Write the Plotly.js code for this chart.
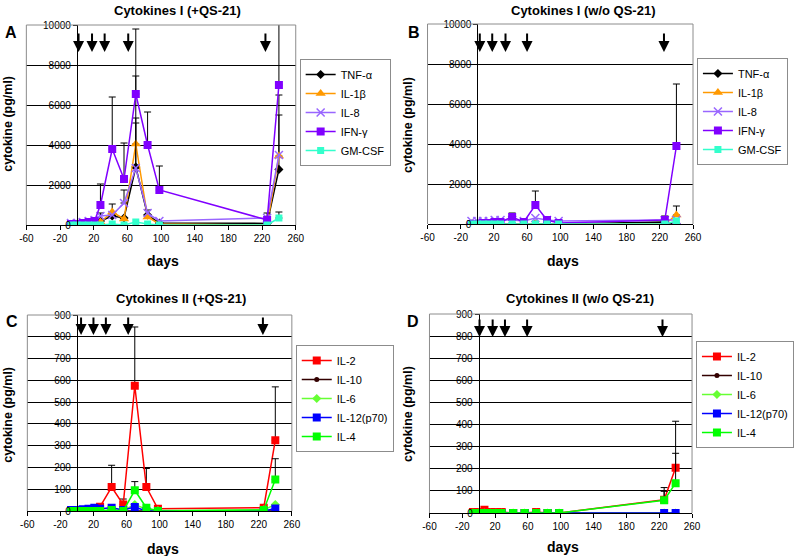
<!DOCTYPE html>
<html>
<head>
<meta charset="utf-8">
<script src="https://cdn.plot.ly/plotly-3.0.1.min.js"></script>
<style>html,body{margin:0;padding:0;background:#fff}#chart{width:794px;height:556px}</style>
</head>
<body>
<div id="chart"></div>
<script>
// ---------------- DATA ----------------
const days = [-7, 0, 7, 14, 21, 28, 42, 56, 70, 84, 98, 226, 240];
const xTicks = [-60, -20, 20, 60, 100, 140, 180, 220, 260];

const seriesI = ['TNF-α', 'IL-1β', 'IL-8', 'IFN-γ', 'GM-CSF'];
const seriesII = ['IL-2', 'IL-10', 'IL-6', 'IL-12(p70)', 'IL-4'];

// Panel A: Cytokines I (+QS-21)
const tnfA  = [30, 30, 50, 80, 100, 200, 450, 350, 2900, 500, 100, 80, 2780];
const il1bA = [0, 0, 0, 0, 0, 150, 650, 300, 4050, 400, 50, 0, 3450];
const il8A  = [100, 100, 150, 200, 250, 450, 500, 1100, 2850, 600, 200, 350, 3500];
const ifnA  = [50, 50, 100, 150, 200, 1000, 3800, 2300, 6550, 4000, 1750, 250, 7000];
const gmA   = [0, 0, 0, 0, 0, 0, 50, 0, 150, 50, 0, 0, 350];
const tnfAErr  = [null, null, null, null, null, 400, null, null, 2450, 250, null, null, 3720];
const il1bAErr = [null, null, null, null, null, null, 400, null, 3400, null, null, null, 2050];
const il8AErr  = [null, null, null, null, null, null, null, 650, 2250, null, null, null, null];
const ifnAErr  = [null, null, null, null, null, 1050, 2600, 1800, 3250, 1650, 1200, 350, 3600];
const gmAErr   = [null, null, null, null, null, null, null, null, null, null, null, null, 300];

// Panel B: Cytokines I (w/o QS-21)
const tnfB  = [0, 0, 0, 0, 0, 0, 0, 0, 0, 0, 0, 100, 0];
const il1bB = [0, 0, 0, 0, 0, 0, 0, 0, 0, 0, 0, 0, 450];
const il8B  = [150, 150, 150, 150, 200, 200, 200, 150, 300, 200, 150, 200, 200];
const ifnB  = [0, 0, 50, 50, 100, 100, 350, 100, 950, 200, 50, 200, 3900];
const gmB   = [0, 0, 0, 0, 0, 0, 0, 0, 0, 0, 0, 0, 150];
const tnfBErr  = [null, null, null, null, null, null, null, null, null, null, null, null, null];
const il1bBErr = [null, null, null, null, null, null, null, null, null, null, null, null, 450];
const il8BErr  = [null, null, null, null, null, null, null, null, null, null, null, null, null];
const ifnBErr  = [null, null, null, null, null, null, 200, null, 700, 150, null, 200, 3100];
const gmBErr   = [null, null, null, null, null, null, null, null, null, null, null, null, null];

// Panel C: Cytokines II (+QS-21)
const il2C  = [3, 3, 5, 5, 8, 20, 110, 30, 575, 110, 10, 15, 325];
const il10C = [0, 0, 0, 0, 0, 0, 0, 0, 0, 0, 0, 0, 0];
const il6C  = [2, 2, 2, 2, 2, 3, 5, 3, 30, 8, 2, 5, 30];
const il12C = [5, 5, 8, 10, 15, 10, 15, 5, 18, 0, 0, 0, 12];
const il4C  = [0, 0, 0, 0, 0, 0, 5, 0, 95, 15, 0, 5, 145];
const il2CErr  = [null, null, null, null, null, null, 100, 25, 270, 85, null, null, 245];
const il10CErr = [null, null, null, null, null, null, null, null, null, null, null, null, null];
const il6CErr  = [null, null, null, null, null, null, null, null, null, null, null, null, null];
const il12CErr = [null, null, null, null, null, null, null, null, null, null, null, null, null];
const il4CErr  = [null, null, null, null, null, null, null, null, 40, null, null, null, 95];

// Panel D: Cytokines II (w/o QS-21)
const il2D  = [5, 5, 15, 5, 5, 5, 0, 0, 5, 0, 0, 60, 205];
const il10D = [0, 0, 0, 0, 0, 0, 0, 0, 0, 0, 0, 0, 0];
const il6D  = [0, 0, 0, 0, 0, 0, 0, 0, 0, 0, 0, 0, 0];
const il12D = [0, 0, 0, 0, 0, 0, 0, 0, 0, 0, 0, 0, 0];
const il4D  = [0, 0, 0, 0, 0, 0, 0, 0, 0, 0, 0, 58, 135];
const il2DErr  = [null, null, null, null, null, null, null, null, null, null, null, 55, 210];
const il10DErr = [null, null, null, null, null, null, null, null, null, null, null, null, null];
const il6DErr  = [null, null, null, null, null, null, null, null, null, null, null, null, null];
const il12DErr = [null, null, null, null, null, null, null, null, null, null, null, null, null];
const il4DErr  = [null, null, null, null, null, null, null, null, null, null, null, 40, 135];

// Immunisation arrows (days) per panel
const arrowDaysA = [2, 18, 33, 61, 224];
const arrowDaysB = [3, 18, 34, 60, 225];
const arrowDaysC = [5, 20, 35, 62, 225];
const arrowDaysD = [1, 17, 32, 59, 224];

const titles = ['Cytokines I (+QS-21)', 'Cytokines I (w/o QS-21)', 'Cytokines II (+QS-21)', 'Cytokines II (w/o QS-21)'];
const panelLetters = ['A', 'B', 'C', 'D'];

// ---------------- STYLE ----------------
const FONT = 'Liberation Sans, Arial, Helvetica, sans-serif';
const W = 794, H = 556;
const X = px => px / W;
const Y = py => 1 - py / H;

const stylesI = [
  {color: '#000000', symbol: 'diamond', size: 7},
  {color: '#FF9900', symbol: 'triangle-up', size: 9},
  {color: '#9966FF', symbol: 'x-thin', size: 8, open: true},
  {color: '#8000FF', symbol: 'square', size: 8},
  {color: '#33FFCC', symbol: 'square', size: 7}
];
const stylesII = [
  {color: '#FF0000', symbol: 'square', size: 8},
  {color: '#330000', symbol: 'circle', size: 5},
  {color: '#66FF33', symbol: 'diamond', size: 7},
  {color: '#0000FF', symbol: 'square', size: 8},
  {color: '#00FF00', symbol: 'square', size: 8}
];

const toErr = a => a.map(v => v == null ? NaN : v);

function mk(name, y, err, st, xa, ya, leg) {
  const marker = {color: st.color, symbol: st.symbol, size: st.size};
  if (st.open) marker.line = {color: st.color, width: 1.5};
  return {
    type: 'scatter', mode: 'lines+markers', name: name, x: days, y: y,
    xaxis: xa, yaxis: ya, legend: leg,
    line: {color: st.color, width: 1.5},
    marker: marker,
    cliponaxis: true,
    error_y: {type: 'data', symmetric: false, array: toErr(err), color: '#000', thickness: 1, width: 3.5, visible: true},
    hoverinfo: 'skip'
  };
}

const traces = [];
const panels = [
  {xa: 'x', ya: 'y', leg: 'legend', names: seriesI, st: stylesI,
   ys: [tnfA, il1bA, il8A, ifnA, gmA], es: [tnfAErr, il1bAErr, il8AErr, ifnAErr, gmAErr]},
  {xa: 'x2', ya: 'y2', leg: 'legend2', names: seriesI, st: stylesI,
   ys: [tnfB, il1bB, il8B, ifnB, gmB], es: [tnfBErr, il1bBErr, il8BErr, ifnBErr, gmBErr]},
  {xa: 'x3', ya: 'y3', leg: 'legend3', names: seriesII, st: stylesII,
   ys: [il2C, il10C, il6C, il12C, il4C], es: [il2CErr, il10CErr, il6CErr, il12CErr, il4CErr]},
  {xa: 'x4', ya: 'y4', leg: 'legend4', names: seriesII, st: stylesII,
   ys: [il2D, il10D, il6D, il12D, il4D], es: [il2DErr, il10DErr, il6DErr, il12DErr, il4DErr]}
];
panels.forEach(p => {
  p.names.forEach((n, i) => traces.push(mk(n, p.ys[i], p.es[i], p.st[i], p.xa, p.ya, p.leg)));
});

// geometry (pixels)
const geo = [
  {l: 27, r: 303, t: 25, b: 225, max: 10000, dt: 2000, title: [182, 11], letter: [11, 33], ytitle: [8, 124], xtitle: [167, 261], legend: [307, 59], arrows: arrowDaysA, tip: 8650, alen: 20},
  {l: 438, r: 710, t: 24, b: 224, max: 10000, dt: 2000, title: [597, 11], letter: [424, 33], ytitle: [418, 125], xtitle: [577, 261], legend: [714, 58], arrows: arrowDaysB, tip: 8600, alen: 20},
  {l: 28, r: 299, t: 315, b: 511, max: 900, dt: 100, title: [185, 298], letter: [12, 321], ytitle: [8, 415], xtitle: [167, 549], legend: [303, 345], arrows: arrowDaysC, tip: 808, alen: 19},
  {l: 440, r: 709, t: 314, b: 513, max: 900, dt: 100, title: [594, 298], letter: [423, 321], ytitle: [418, 414], xtitle: [577, 547], legend: [713, 341], arrows: arrowDaysD, tip: 796, alen: 19}
];

const layout = {
  width: W, height: H,
  margin: {l: 0, r: 0, t: 0, b: 0},
  paper_bgcolor: '#fff', plot_bgcolor: '#fff',
  font: {family: FONT, color: '#000', size: 10},
  showlegend: true,
  annotations: [], shapes: []
};

geo.forEach((g, k) => {
  const sfx = k === 0 ? '' : String(k + 1);
  const xref = 'x' + sfx, yref = 'y' + sfx;
  const day0px = g.l + (0 - (-60)) * (g.r - g.l) / 320;
  layout['xaxis' + sfx] = {
    domain: [X(g.l), X(g.r)], anchor: yref, range: [-60, 260],
    tickmode: 'array', tickvals: xTicks, ticktext: xTicks.map(String),
    showgrid: false, zeroline: false, showline: true, linecolor: '#000', linewidth: 1,
    ticks: 'outside', ticklen: 4, tickcolor: '#000', tickfont: {size: 10, family: FONT, color: '#000'},
    fixedrange: true
  };
  layout['yaxis' + sfx] = {
    domain: [Y(g.b), Y(g.t)], anchor: 'free', position: X(day0px), range: [0, g.max],
    dtick: g.dt, tick0: 0, tickformat: 'd', showgrid: true, gridcolor: '#000', gridwidth: 1,
    zeroline: false, showline: true, linecolor: '#000', linewidth: 1,
    ticks: 'outside', ticklen: 4, tickcolor: '#000', tickfont: {size: 10, family: FONT, color: '#000'},
    fixedrange: true
  };
  // grey frame (left, top, right)
  const dx = xref + ' domain', dy = yref + ' domain';
  [[0, 0, 0, 1], [0, 1, 1, 1], [1, 0, 1, 1]].forEach(s => {
    layout.shapes.push({type: 'line', xref: dx, yref: dy, x0: s[0], y0: s[1], x1: s[2], y1: s[3],
      line: {color: '#8c8c8c', width: 1}, layer: 'above'});
  });
  // titles
  layout.annotations.push({text: '<b>' + titles[k] + '</b>', xref: 'paper', yref: 'paper',
    x: X(g.title[0]), y: Y(g.title[1]), xanchor: 'center', yanchor: 'middle', showarrow: false,
    font: {size: 13, family: FONT, color: '#000'}});
  layout.annotations.push({text: '<b>' + panelLetters[k] + '</b>', xref: 'paper', yref: 'paper',
    x: X(g.letter[0]), y: Y(g.letter[1]), xanchor: 'center', yanchor: 'middle', showarrow: false,
    font: {size: 16, family: FONT, color: '#000'}});
  layout.annotations.push({text: '<b>cytokine (pg/ml)</b>', xref: 'paper', yref: 'paper',
    x: X(g.ytitle[0]), y: Y(g.ytitle[1]), xanchor: 'center', yanchor: 'middle', showarrow: false,
    textangle: -90, font: {size: 12.5, family: FONT, color: '#000'}});
  layout.annotations.push({text: '<b>days</b>', xref: 'paper', yref: 'paper',
    x: X(g.xtitle[0]), y: Y(g.xtitle[1]), xanchor: 'center', yanchor: 'middle', showarrow: false,
    font: {size: 14, family: FONT, color: '#000'}});
  // arrows
  g.arrows.forEach(d => {
    layout.annotations.push({text: '', xref: xref, yref: yref, x: d, y: g.tip,
      showarrow: true, ax: 0, ay: -g.alen, arrowhead: 2, arrowsize: 1.1, arrowwidth: 2, arrowcolor: '#000'});
  });
  // legend
  const legName = k === 0 ? 'legend' : 'legend' + (k + 1);
  layout[legName] = {
    x: X(g.legend[0]), y: Y(g.legend[1]), xanchor: 'left', yanchor: 'top',
    xref: 'paper', yref: 'paper',
    bgcolor: '#fff', bordercolor: '#8c8c8c', borderwidth: 1,
    font: {size: 11, family: FONT, color: '#000'},
    itemwidth: 30, tracegroupgap: 0, traceorder: 'normal'
  };
});

Plotly.newPlot('chart', traces, layout, {staticPlot: true, displayModeBar: false});
</script>
</body>
</html>
